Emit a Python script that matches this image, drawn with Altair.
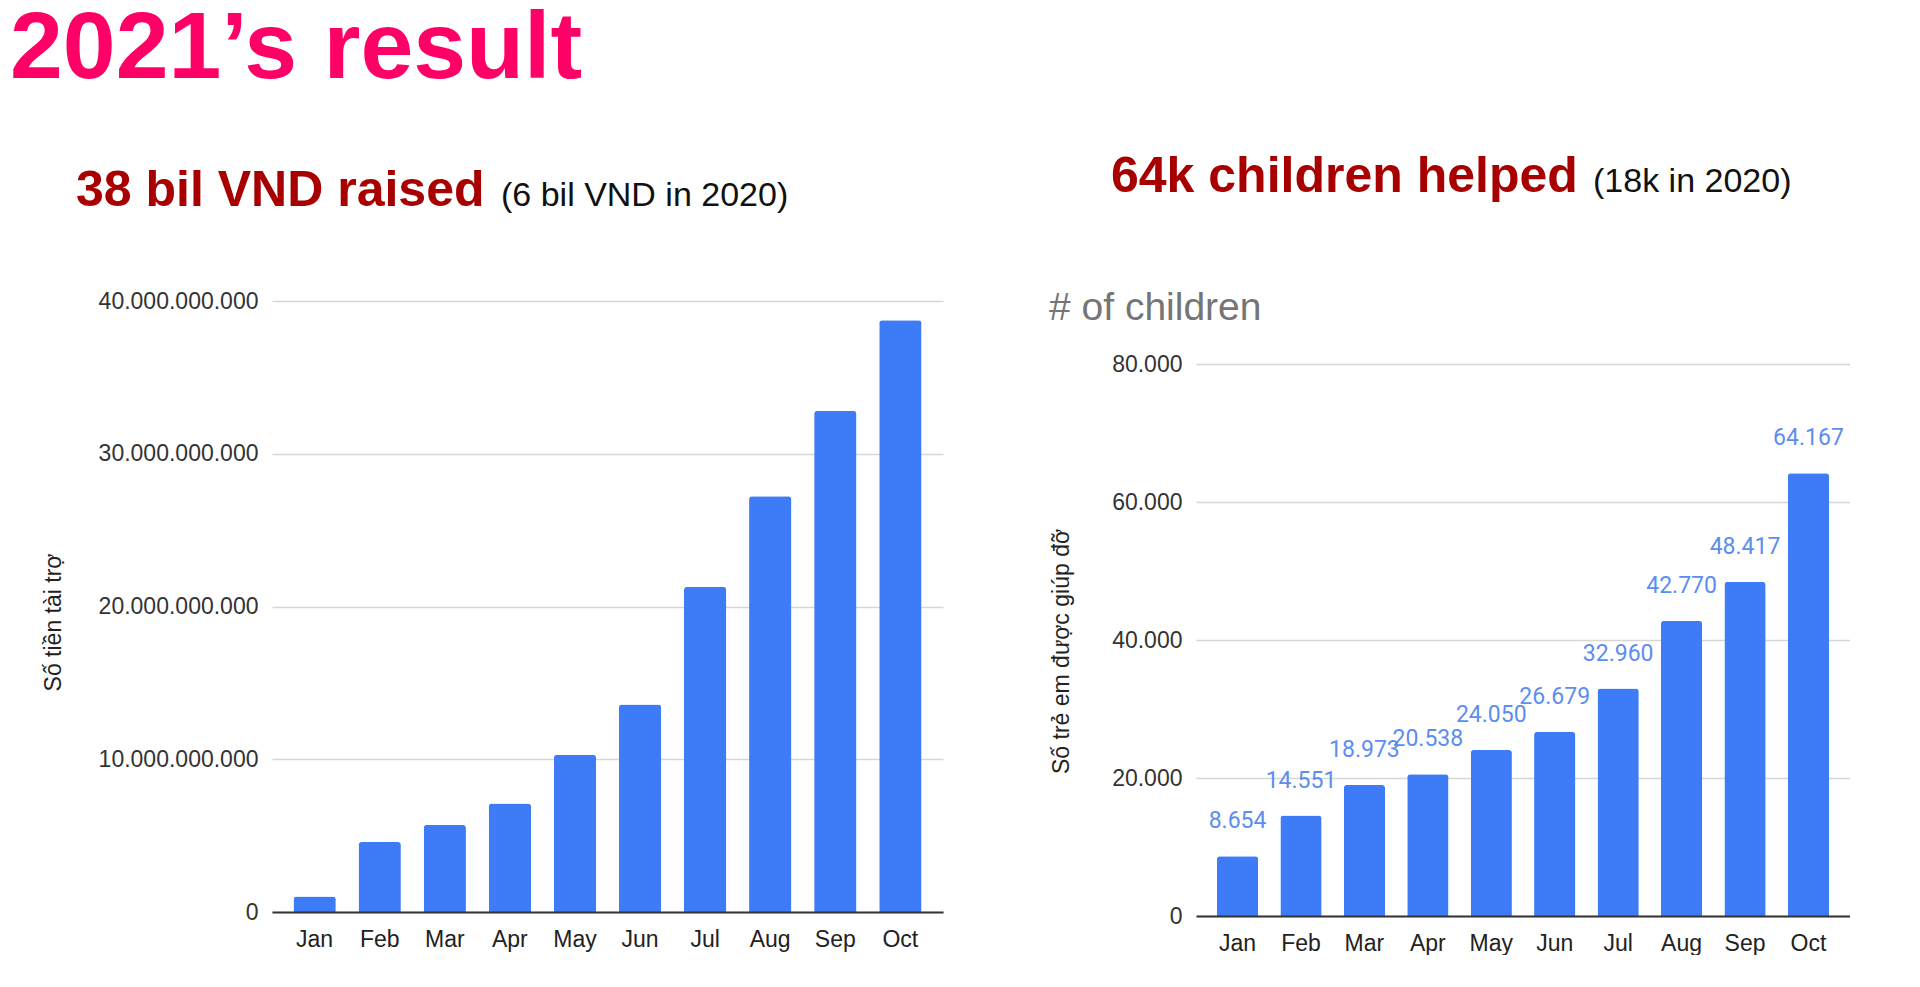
import altair as alt
import pandas as pd

# ---------------- data ----------------
MONTHS = ["Jan", "Feb", "Mar", "Apr", "May", "Jun", "Jul", "Aug", "Sep", "Oct"]
FUNDS_VND = [1_020_000_000, 4_580_000_000, 5_700_000_000, 7_100_000_000,
             10_280_000_000, 13_580_000_000, 21_280_000_000, 27_220_000_000,
             32_800_000_000, 38_740_000_000]
CHILDREN = [8654, 14551, 18973, 20538, 24050, 26679, 32960, 42770, 48417, 64167]
FUNDS_TICKS = [0, 10_000_000_000, 20_000_000_000, 30_000_000_000, 40_000_000_000]
CHILDREN_TICKS = [0, 20000, 40000, 60000, 80000]

MAIN_TITLE = ["2021\u2019s result"]
LEFT_HEAD = ["38 bil VND raised"]
LEFT_NOTE = ["(6 bil VND in 2020)"]
RIGHT_HEAD = ["64k children helped"]
RIGHT_NOTE = ["(18k in 2020)"]
RIGHT_CHART_TITLE = ["# of children"]
LEFT_YTITLE = "Số tiền tài trợ"
RIGHT_YTITLE = "Số trẻ em được giúp đỡ"

# ---------------- styles ----------------
BAR = "#3d7cf6"
LABEL_BLUE = "#5b8ef0"
FONT = "Liberation Sans"
DOTS = "join(split(format(datum.value, ','), ','), '.')"

funds_df = pd.DataFrame({"month": MONTHS, "funds": FUNDS_VND})
children_df = pd.DataFrame({"month": MONTHS, "children": CHILDREN})


def text_layer(values, x, y, size, color, weight="normal", font=FONT):
    return alt.Chart(pd.DataFrame({"t": values})).mark_text(
        align="left", baseline="alphabetic", fontSize=size, color=color,
        fontWeight=weight, font=font
    ).encode(text="t:N", x=alt.value(x), y=alt.value(y))


def x_enc():
    return alt.X(
        "month:N", sort=MONTHS,
        scale=alt.Scale(paddingInner=0.35, paddingOuter=0.33),
        axis=alt.Axis(title=None, labelAngle=0, labelPadding=16, labelFontSize=23,
                      labelColor="#222", labelFont=FONT, ticks=False, domain=True,
                      domainColor="#333", domainWidth=2, grid=False, zindex=1),
    )


# ---------------- left chart ----------------
W1, H1 = 671, 611
bars1 = alt.Chart(funds_df).mark_bar(
    color=BAR, cornerRadiusTopLeft=3, cornerRadiusTopRight=3
).encode(
    x=x_enc(),
    y=alt.Y("funds:Q",
            scale=alt.Scale(domain=[0, 40_000_000_000], nice=False),
            axis=alt.Axis(values=FUNDS_TICKS, labelExpr=DOTS, labelFontSize=23,
                          labelColor="#333", labelFont=FONT, labelPadding=14,
                          ticks=False, domain=False, gridColor="#d6d6d6", gridWidth=1.5,
                          title=LEFT_YTITLE, titleFont=FONT, titleFontSize=23,
                          titleFontWeight="normal", titleColor="#222",
                          titleAngle=270, titleAlign="center", titleBaseline="middle",
                          titleX=-219, titleY=321)),
)

left = alt.layer(
    bars1,
    text_layer(MAIN_TITLE, -262, -223, 95, "#ff0066", "bold"),
    text_layer(LEFT_HEAD, -196, -95, 50, "#a80000", "bold"),
    text_layer(LEFT_NOTE, 229, -95, 34, "#111111"),
).properties(width=W1, height=H1)

# ---------------- right chart ----------------
W2, H2 = 654, 615
Y2_MAX = 80000 * 615 / 552
bars2 = alt.Chart(children_df).mark_bar(
    color=BAR, cornerRadiusTopLeft=3, cornerRadiusTopRight=3
).encode(
    x=x_enc(),
    y=alt.Y("children:Q",
            scale=alt.Scale(domain=[0, Y2_MAX], nice=False),
            axis=alt.Axis(values=CHILDREN_TICKS, labelExpr=DOTS, labelFontSize=23,
                          labelColor="#333", labelFont=FONT, labelPadding=14,
                          ticks=False, domain=False, gridColor="#d6d6d6", gridWidth=1.5,
                          title=RIGHT_YTITLE, titleFont=FONT, titleFontSize=23,
                          titleFontWeight="normal", titleColor="#222",
                          titleAngle=270, titleAlign="center", titleBaseline="middle",
                          titleX=-135, titleY=350)),
)

labels2 = alt.Chart(children_df).transform_calculate(
    lbl="join(split(format(datum.children, ','), ','), '.')"
).mark_text(
    baseline="alphabetic", dy=-28, fontSize=23, color=LABEL_BLUE, font="Roboto"
).encode(
    x=alt.X("month:N", sort=MONTHS),
    y=alt.Y("children:Q"),
    text="lbl:N",
)

right = alt.layer(
    bars2,
    labels2,
    text_layer(RIGHT_HEAD, -85, -109, 50, "#a80000", "bold"),
    text_layer(RIGHT_NOTE, 397, -109, 34, "#111111"),
    text_layer(RIGHT_CHART_TITLE, -147, 19, 39, "#757575"),
).properties(width=W2, height=H2)

chart = alt.hconcat(left, right, spacing=253, bounds="flush").properties(
    padding={"left": 2, "top": -6, "right": 0, "bottom": 0}
).configure_view(stroke=None)

chart.save("out.html", embed_options={"renderer": "svg", "actions": False})
